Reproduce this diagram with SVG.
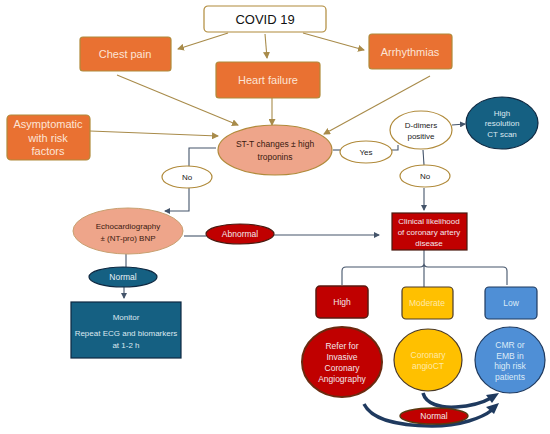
<svg xmlns="http://www.w3.org/2000/svg" width="550" height="434" viewBox="0 0 550 434">
<defs>
<marker id="ag" markerWidth="7" markerHeight="7" refX="6" refY="3.5" orient="auto" markerUnits="userSpaceOnUse"><path d="M0,0 L7,3.5 L0,7 z" fill="#A88B4A"/></marker>
<marker id="as" markerWidth="6" markerHeight="6" refX="5" refY="3" orient="auto" markerUnits="userSpaceOnUse"><path d="M0,0 L6,3 L0,6 z" fill="#44546A"/></marker>
<style>
text{font-family:"Liberation Sans",Arial,sans-serif;text-anchor:middle;dominant-baseline:central}
.or{fill:#E97132;stroke:#B08A3A;stroke-width:1.2}
.ot{fill:#FCE4D6;font-size:11px}
.wh{fill:#fff;stroke:#B08A3A;stroke-width:1.2}
.sm{font-size:8px;fill:#222}
.g{stroke:#A88B4A;stroke-width:1.1;fill:none}
.s{stroke:#44546A;stroke-width:1.1;fill:none}
.db{fill:#156082;stroke:#0E2841;stroke-width:1.2}
.dr{fill:#C00000;stroke:#4A1A10;stroke-width:1.2}
.lt{fill:#F2E6EA;font-size:8.5px}
.cv{fill:none;stroke:#1F3A5F;stroke-width:3.5}
</style>
</defs>
<g id="connectors">
<line class="g" x1="228" y1="33" x2="178" y2="49" marker-end="url(#ag)"/>
<line class="g" x1="265" y1="34" x2="267" y2="58" marker-end="url(#ag)"/>
<line class="g" x1="303" y1="33" x2="364" y2="50" marker-end="url(#ag)"/>
<line class="g" x1="117" y1="75" x2="238" y2="125" marker-end="url(#ag)"/>
<line class="g" x1="272" y1="98" x2="272" y2="125" marker-end="url(#ag)"/>
<line class="g" x1="430" y1="76" x2="324" y2="134" marker-end="url(#ag)"/>
<line class="g" x1="90" y1="131" x2="218" y2="136" marker-end="url(#ag)"/>
<polyline class="s" points="216,148 189,148 189,211 165,211" marker-end="url(#as)"/>
<line class="s" x1="333" y1="150" x2="340" y2="150"/>
<polyline class="s" points="392,150 398,150 398,145"/>
<line class="s" x1="452" y1="125" x2="465" y2="124" marker-end="url(#as)"/>
<line class="s" x1="423" y1="150" x2="424" y2="165"/>
<line class="s" x1="424" y1="188" x2="424" y2="210" marker-end="url(#as)"/>
<line class="s" x1="184" y1="236" x2="206" y2="236"/>
<line class="s" x1="274" y1="235" x2="379" y2="235" marker-end="url(#as)"/>
<line class="s" x1="126" y1="254" x2="126" y2="267"/>
<line class="s" x1="124" y1="287" x2="124" y2="298" marker-end="url(#as)"/>
<path class="s" d="M342,285 L342,271 Q342,267 346,267 L420,267 Q424,267 424,263 L424,250 M424,263 Q424,267 428,267 L503,267 Q507,267 507,271 L507,285 M424,263 L424,287"/>
<path class="cv" d="M364,404 C372,420 400,426 432,426 C460,426 482,418 492,410"/>
<polygon points="499,403 486,407 494,414" fill="#1F3A5F"/>
<path class="cv" d="M423,393 C426,404 440,408 456,407 C472,406 484,402 491,398"/>
<polygon points="499,393 486,395 492,403" fill="#1F3A5F"/>
</g>
<g id="covid"><rect x="204" y="6" width="122" height="26" rx="4" class="wh" stroke="#C87848"/><text x="265" y="19" style="font-size:13px;fill:#111">COVID 19</text></g>
<g id="chest"><rect x="80" y="37" width="91" height="34" rx="3" class="or"/><text x="125" y="54" class="ot">Chest pain</text></g>
<g id="heart"><rect x="216" y="62" width="104" height="36" rx="3" class="or"/><text x="268" y="80" class="ot">Heart failure</text></g>
<g id="arr"><rect x="369" y="34" width="83" height="35" rx="3" class="or"/><text x="410" y="52" class="ot">Arrhythmias</text></g>
<g id="asym"><rect x="7" y="115" width="83" height="45" rx="4" class="or"/><text x="48" y="124" class="ot">Asymptomatic</text><text x="48" y="138" class="ot">with risk</text><text x="48" y="151" class="ot">factors</text></g>
<g id="stt"><ellipse cx="275" cy="150" rx="57" ry="25" fill="#EEA58A" stroke="#B08A3A" stroke-width="1.2"/><text x="275" y="144" style="font-size:8.5px;fill:#3A1A10">ST-T changes ± high</text><text x="275" y="157" style="font-size:8.5px;fill:#3A1A10">troponins</text></g>
<g id="noL"><ellipse cx="187" cy="177" rx="25" ry="11" class="wh"/><text x="187" y="177" class="sm">No</text></g>
<g id="yes"><ellipse cx="366" cy="152" rx="26" ry="11" class="wh"/><text x="366" y="152" class="sm">Yes</text></g>
<g id="ddim"><ellipse cx="421" cy="130" rx="31" ry="19" class="wh"/><text x="421" y="125" class="sm">D-dimers</text><text x="421" y="136" class="sm">positive</text></g>
<g id="ct"><ellipse cx="502" cy="123" rx="36" ry="26" class="db"/><text x="502" y="113" style="font-size:8px;fill:#DDE8F0">High</text><text x="502" y="123" style="font-size:8px;fill:#DDE8F0">resolution</text><text x="502" y="134" style="font-size:8px;fill:#DDE8F0">CT scan</text></g>
<g id="noR"><ellipse cx="425" cy="176" rx="25" ry="11" class="wh"/><text x="425" y="176" class="sm">No</text></g>
<g id="clin"><rect x="392" y="213" width="75" height="37" class="dr"/><text x="429" y="221" class="lt" style="font-size:8px">Clinical likelihood</text><text x="429" y="232" class="lt" style="font-size:8px">of coronary artery</text><text x="429" y="243" class="lt" style="font-size:8px">disease</text></g>
<g id="echo"><ellipse cx="128" cy="231" rx="55" ry="23" fill="#EEA58A" stroke="#C8A070" stroke-width="1"/><text x="128" y="226" style="font-size:8px;fill:#3A1A10">Echocardiography</text><text x="128" y="238" style="font-size:8px;fill:#3A1A10">± (NT-pro) BNP</text></g>
<g id="abn"><ellipse cx="240" cy="234" rx="34" ry="10" class="dr" stroke="#2A0A05"/><text x="240" y="234" class="lt">Abnormal</text></g>
<g id="normL"><ellipse cx="123" cy="277" rx="34" ry="10" class="db"/><text x="123" y="277" style="font-size:8.5px;fill:#E8F0F6">Normal</text></g>
<g id="monitor"><rect x="71" y="302" width="110" height="56" class="db"/><text x="126" y="317" style="font-size:8px;fill:#DDE8F0">Monitor</text><text x="126" y="333" style="font-size:8px;fill:#DDE8F0">Repeat ECG and biomarkers</text><text x="126" y="345" style="font-size:8px;fill:#DDE8F0">at 1-2 h</text></g>
<g id="high"><rect x="316" y="286" width="52" height="32" rx="4" fill="#C00000" stroke="#5A1A10" stroke-width="1.5"/><text x="342" y="302" class="lt">High</text></g>
<g id="mod"><rect x="402" y="287" width="51" height="32" rx="4" fill="#FFC000" stroke="#4A3A2A" stroke-width="1.2"/><text x="427" y="303" style="font-size:8.5px;fill:#FFE9A8">Moderate</text></g>
<g id="low"><rect x="485" y="287" width="52" height="32" rx="4" fill="#4F8FD6" stroke="#1F3A5F" stroke-width="1.2"/><text x="511" y="303" style="font-size:8.5px;fill:#DDEBF7">Low</text></g>
<g id="refer"><ellipse cx="342" cy="362" rx="40" ry="35" fill="#C00000" stroke="#6A2A10" stroke-width="2"/><text x="342" y="346" class="lt">Refer for</text><text x="342" y="357" class="lt">Invasive</text><text x="342" y="368" class="lt">Coronary</text><text x="342" y="379" class="lt">Angiography</text></g>
<g id="angio"><ellipse cx="428" cy="360" rx="34" ry="31" fill="#FFC000" stroke="#4A3A2A" stroke-width="1.2"/><text x="428" y="355" style="font-size:8.5px;fill:#FFE9A8">Coronary</text><text x="428" y="366" style="font-size:8.5px;fill:#FFE9A8">angioCT</text></g>
<g id="cmr"><ellipse cx="510" cy="360" rx="35" ry="33" fill="#4F8FD6" stroke="#1F3A5F" stroke-width="1.2"/><text x="510" y="345" style="font-size:8.5px;fill:#DDEBF7">CMR or</text><text x="510" y="356" style="font-size:8.5px;fill:#DDEBF7">EMB in</text><text x="510" y="366" style="font-size:8.5px;fill:#DDEBF7">high risk</text><text x="510" y="377" style="font-size:8.5px;fill:#DDEBF7">patients</text></g>
<g id="normB"><ellipse cx="434" cy="416" rx="34" ry="8" fill="#C00000" stroke="#5A3A10" stroke-width="1.5"/><text x="434" y="416" class="lt">Normal</text></g>
</svg>
